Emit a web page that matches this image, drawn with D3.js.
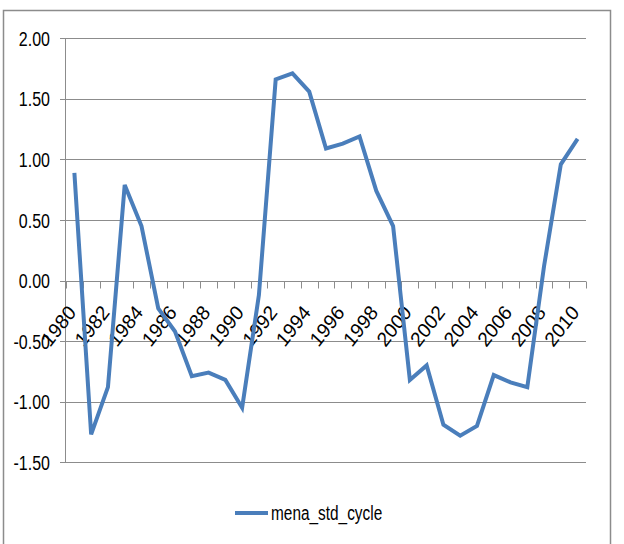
<!DOCTYPE html>
<html><head><meta charset="utf-8">
<script src="https://cdn.jsdelivr.net/npm/d3@7"></script>
<style>body{margin:0;background:#fff}svg{display:block}</style>
</head><body>
<svg id="c" width="624" height="544"></svg>
<script>
const years = ["1980","1981","1982","1983","1984","1985","1986","1987","1988","1989","1990","1991","1992","1993","1994","1995","1996","1997","1998","1999","2000","2001","2002","2003","2004","2005","2006","2007","2008","2009","2010"];
const values = [0.89,-1.27,-0.88,0.79,0.45,-0.23,-0.42,-0.79,-0.76,-0.82,-1.05,-0.12,1.66,1.71,1.56,1.09,1.13,1.19,0.74,0.45,-0.82,-0.70,-1.19,-1.28,-1.20,-0.78,-0.84,-0.88,0.12,0.96,1.17];
const yTicks = [2.0,1.5,1.0,0.5,0.0,-0.5,-1.0,-1.5];
const seriesName = "mena_std_cycle";

const svg = d3.select("#c");
const FONT = "'Liberation Sans', Arial, sans-serif";
const lineColor = "#4A7EBB", gridColor = "#8C8C8C";
const fmt = d => d3.format(".2f")(d).replace("\u2212","-");
const KY = 1.3, KL = 1.35;

// outer border
svg.append("rect").attr("x",3.5).attr("y",10.5).attr("width",607).attr("height",560)
  .attr("fill","none").attr("stroke","#8C8C8C").attr("stroke-width",1.5);

const x = d3.scaleBand().domain(years).range([66,586]).padding(0);
const y = d3.scaleLinear().domain([-1.5,2]).range([462.3,38.3]);

// gridlines + y tick labels
const g = svg.append("g");
g.selectAll("line.grid").data(yTicks).join("line")
  .attr("x1",60).attr("x2",586)
  .attr("y1",d=>Math.round(y(d))+0.5).attr("y2",d=>Math.round(y(d))+0.5)
  .attr("stroke",gridColor).attr("stroke-width",1);
g.selectAll("text.ylab").data(yTicks).join("text")
  .attr("transform",d=>`translate(50,${y(d)+7.5}) scale(1,${KY})`)
  .attr("text-anchor","end").attr("font-family",FONT).attr("font-size",16)
  .attr("fill","#000").text(fmt);

// y axis line
svg.append("line").attr("x1",65.5).attr("x2",65.5).attr("y1",y(2)).attr("y2",y(-1.5))
  .attr("stroke",gridColor).attr("stroke-width",1);

// x axis at 0
const y0 = Math.round(y(0))+0.5;
svg.append("line").attr("x1",65).attr("x2",586).attr("y1",y0).attr("y2",y0)
  .attr("stroke",gridColor).attr("stroke-width",1);
const edges = years.map(d=>x(d)).concat([x(years[years.length-1])+x.bandwidth()]);
svg.selectAll("line.xt").data(edges).join("line")
  .attr("x1",d=>Math.round(d)+0.5).attr("x2",d=>Math.round(d)+0.5)
  .attr("y1",y0).attr("y2",y0+7).attr("stroke",gridColor).attr("stroke-width",1);

// x labels every other year
svg.selectAll("text.xl").data(years.filter((d,i)=>i%2===0)).join("text")
  .attr("transform",d=>`translate(${x(d)+x.bandwidth()/2+2.6},${y0+31.5}) scale(0.92,1) rotate(-50)`)
  .attr("text-anchor","end").attr("font-family",FONT).attr("font-size",20.5)
  .attr("fill","#000").text(d=>d);

// series line
const line = d3.line().x((d,i)=>x(years[i])+x.bandwidth()/2).y(d=>y(d));
svg.append("path").datum(values).attr("d",line).attr("fill","none")
  .attr("stroke",lineColor).attr("stroke-width",4).attr("stroke-linejoin","miter");

// legend
svg.append("line").attr("x1",235).attr("x2",268).attr("y1",513).attr("y2",513)
  .attr("stroke",lineColor).attr("stroke-width",4);
svg.append("text").attr("transform",`translate(271,520) scale(1,${KL})`)
  .attr("font-family",FONT).attr("font-size",15.4).attr("fill","#000").text(seriesName);
</script>
</body></html>
